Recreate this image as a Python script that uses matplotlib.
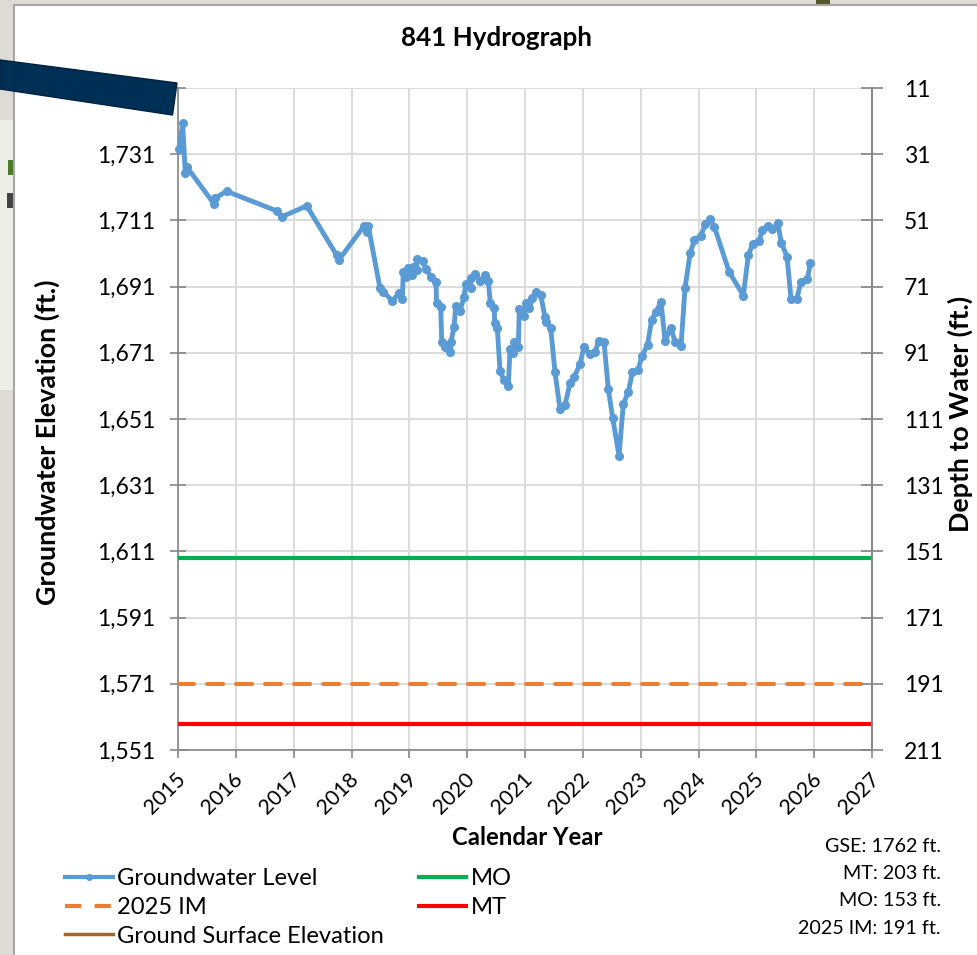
import matplotlib
matplotlib.use("Agg")
import matplotlib.pyplot as plt
import matplotlib.transforms as mtrans
from matplotlib.lines import Line2D
from matplotlib.patches import Polygon, Rectangle

plt.rcParams['font.family'] = ['Lato', 'DejaVu Sans']

# groundwater level (decimal year, elevation in ft)
gw_year = [2015.02, 2015.08, 2015.126, 2015.15, 2015.623, 2015.64, 2015.842, 2016.717, 2016.798,
           2017.225, 2017.744, 2017.779, 2018.216, 2018.273, 2018.29, 2018.493, 2018.545, 2018.706,
           2018.822, 2018.879, 2018.896, 2018.937, 2018.982, 2019.041, 2019.069, 2019.128, 2019.133,
           2019.231, 2019.288, 2019.375, 2019.461, 2019.47, 2019.543, 2019.56, 2019.617, 2019.703,
           2019.72, 2019.773, 2019.802, 2019.876, 2019.946, 2019.975, 2020.061, 2020.067, 2020.141,
           2020.222, 2020.309, 2020.366, 2020.4, 2020.469, 2020.475, 2020.521, 2020.568, 2020.637,
           2020.712, 2020.741, 2020.798, 2020.81, 2020.884, 2020.902, 2020.983, 2021.018, 2021.075,
           2021.127, 2021.185, 2021.272, 2021.346, 2021.359, 2021.445, 2021.519, 2021.606, 2021.692,
           2021.778, 2021.853, 2021.951, 2022.02, 2022.124, 2022.211, 2022.28, 2022.366, 2022.441,
           2022.517, 2022.626, 2022.7, 2022.787, 2022.856, 2022.954, 2023.024, 2023.119, 2023.188,
           2023.266, 2023.352, 2023.421, 2023.52, 2023.594, 2023.698, 2023.767, 2023.854, 2023.928,
           2024.039, 2024.118, 2024.2, 2024.274, 2024.528, 2024.775, 2024.862, 2024.938, 2025.047,
           2025.104, 2025.197, 2025.277, 2025.37, 2025.432, 2025.531, 2025.6, 2025.699, 2025.768,
           2025.882, 2025.934]
gw_elev = [1732.6, 1740.5, 1725.2, 1727.2, 1716.0, 1717.7, 1719.8, 1713.8, 1712.1,
           1715.4, 1700.5, 1699.0, 1709.3, 1707.6, 1709.3, 1690.5, 1689.5, 1686.7,
           1689.0, 1687.2, 1695.5, 1694.0, 1696.5, 1694.5, 1697.0, 1696.0, 1699.2,
           1698.8, 1696.2, 1694.0, 1692.5, 1686.0, 1684.9, 1674.2, 1672.7, 1671.2,
           1674.2, 1678.9, 1685.1, 1683.6, 1687.8, 1691.8, 1690.5, 1693.5, 1694.8,
           1692.8, 1694.5, 1692.8, 1686.0, 1684.4, 1680.1, 1678.4, 1665.5, 1662.8,
           1661.0, 1672.1, 1670.8, 1674.4, 1672.7, 1684.2, 1682.1, 1686.0, 1684.4,
           1687.5, 1689.5, 1688.5, 1681.7, 1680.2, 1678.4, 1665.1, 1654.0, 1655.2,
           1661.8, 1663.8, 1667.6, 1672.7, 1670.6, 1671.3, 1674.7, 1674.3, 1660.0,
           1651.2, 1639.9, 1655.5, 1659.2, 1665.1, 1665.8, 1670.1, 1673.4, 1680.9,
           1683.4, 1686.4, 1674.6, 1678.6, 1674.4, 1673.1, 1690.5, 1701.0, 1705.0,
           1706.4, 1709.8, 1711.4, 1709.1, 1695.5, 1688.3, 1700.5, 1703.9, 1704.8,
           1708.1, 1709.4, 1708.4, 1710.1, 1704.3, 1700.0, 1687.2, 1687.2, 1692.3,
           1693.2, 1698.0]

gse = 1762
mt_depth = 203
mo_depth = 153
im_depth = 191

x_limits = [2015, 2027]
year_ticks = list(range(2015, 2028))
elev_ticks = list(range(1551, 1752, 20))
depth_ticks = list(range(11, 212, 20))

notes = ["GSE: 1762 ft.", "MT: 203 ft.", "MO: 153 ft.", "2025 IM: 191 ft."]

W, H = 978, 955
fig = plt.figure(figsize=(W / 100, H / 100), dpi=100, facecolor="#dddbd5")


def px(x, y):
    return x / W, 1 - y / H


def patch(x0, y0, x1, y1, color):
    fig.add_artist(Rectangle(px(x0, y1), (x1 - x0) / W, (y1 - y0) / H, transform=fig.transFigure,
                             facecolor=color, edgecolor="none", zorder=-2))


# bits of the map showing behind the sheet
patch(0, 120, 13, 390, "#eeeee8")
patch(8, 160, 13, 175, "#4d7a2a")
patch(7, 193, 13, 208, "#444444")
patch(816, 0, 830, 4, "#55562a")

# white sheet
fig.add_artist(Rectangle(px(14, 975), 1, 970 / H, transform=fig.transFigure,
                         facecolor="white", edgecolor="#a6a6a6", linewidth=1.5, zorder=-1))

ax = fig.add_axes([178 / W, 1 - 750 / H, 694 / W, 662 / H])
ax.patch.set_alpha(0)
ax.set_xlim(x_limits)
ax.set_ylim(elev_ticks[0], elev_ticks[-1])
ax.set_xticks(year_ticks)
ax.set_yticks(elev_ticks)
ax.set_yticklabels(["{:,}".format(v) for v in elev_ticks])
ax.set_xticklabels(year_ticks, rotation=45, ha="right", va="top", rotation_mode="anchor")
ax.grid(color="#d9d9d9", linewidth=1.3)
ax.set_axisbelow(True)

ax.plot(gw_year, gw_elev, color="#5b9bd5", linewidth=3.5, marker="o", markersize=5.5, zorder=5, clip_on=False)
ax.plot(x_limits, [gse - mo_depth] * 2, color="#00b050", linewidth=3, zorder=3)
ax.plot(x_limits, [gse - im_depth] * 2, color="#ed7d31", linewidth=2.9, dashes=(4, 3.2),
        dash_capstyle="round", zorder=3)
ax.plot(x_limits, [gse - mt_depth] * 2, color="#ff0000", linewidth=3, zorder=3)
ax.plot(x_limits, [gse, gse], color="#a5662d", linewidth=2.5, zorder=3)

for s in ["top"]:
    ax.spines[s].set_visible(False)
for s in ["left", "right", "bottom"]:
    ax.spines[s].set_color("#868686")
    ax.spines[s].set_linewidth(1.2)

ax.tick_params(axis="x", length=6, width=1.2, color="#868686", labelsize=15.2, pad=4)
ax.tick_params(axis="y", direction="inout", length=12, width=1.2, color="#868686", labelsize=16.5, pad=10)
for lab in ax.get_xticklabels():
    lab.set_transform(lab.get_transform() + mtrans.ScaledTranslation(-3 / 100, -5 / 100, fig.dpi_scale_trans))

ax2 = ax.twinx()
ax2.patch.set_alpha(0)
ax2.set_ylim(depth_ticks[-1], depth_ticks[0])
ax2.set_yticks(depth_ticks)
ax2.spines["top"].set_visible(False)
ax2.spines["left"].set_visible(False)
ax2.spines["bottom"].set_visible(False)
ax2.spines["right"].set_color("#868686")
ax2.spines["right"].set_linewidth(1.2)
ax2.tick_params(axis="y", direction="inout", length=16, width=1.2, color="#868686", labelsize=16.5, pad=15)

fig.text(*px(497, 38.5), "841 Hydrograph", ha="center", va="center", fontsize=18.7, fontweight="bold")
fig.text(*px(47, 442), "Groundwater Elevation (ft.)", rotation=90, ha="center", va="center",
         fontsize=19.4, fontweight="bold")
fig.text(*px(960, 414), "Depth to Water (ft.)", rotation=90, ha="center", va="center",
         fontsize=19.3, fontweight="bold")
fig.text(*px(527, 837), "Calendar Year", ha="center", va="center", fontsize=17.2, fontweight="bold")

for y, note in zip([846, 873, 900, 928], notes):
    fig.text(*px(941, y), note, ha="right", va="center", fontsize=14.2)

handles = [
    Line2D([], [], color="#5b9bd5", linewidth=3, marker="o", markersize=4),
    Line2D([], [], color="#ed7d31", linewidth=3, dashes=(3.9, 3.2)),
    Line2D([], [], color="#a5662d", linewidth=2.5),
    Line2D([], [], color="#00b050", linewidth=3),
    Line2D([], [], color="#ff0000", linewidth=3),
]
labels = ["Groundwater Level", "2025 IM", "Ground Surface Elevation", "MO", "MT"]
fig.legend(handles, labels, ncol=2, frameon=False, fontsize=17.1, loc="upper left",
           bbox_to_anchor=px(58, 861), handlelength=2.0, handletextpad=0.2, columnspacing=1.45,
           labelspacing=0.33, borderpad=0.3, borderaxespad=0)

# dark banner laid over the corner of the chart
fig.add_artist(Polygon([px(0, 60), px(177, 83), px(172.5, 115), px(0, 89)], closed=True,
                       transform=fig.transFigure, facecolor="#002f56", edgecolor="#00223f",
                       linewidth=1, zorder=10))

fig.savefig("out.png", dpi=100, facecolor=fig.get_facecolor())
